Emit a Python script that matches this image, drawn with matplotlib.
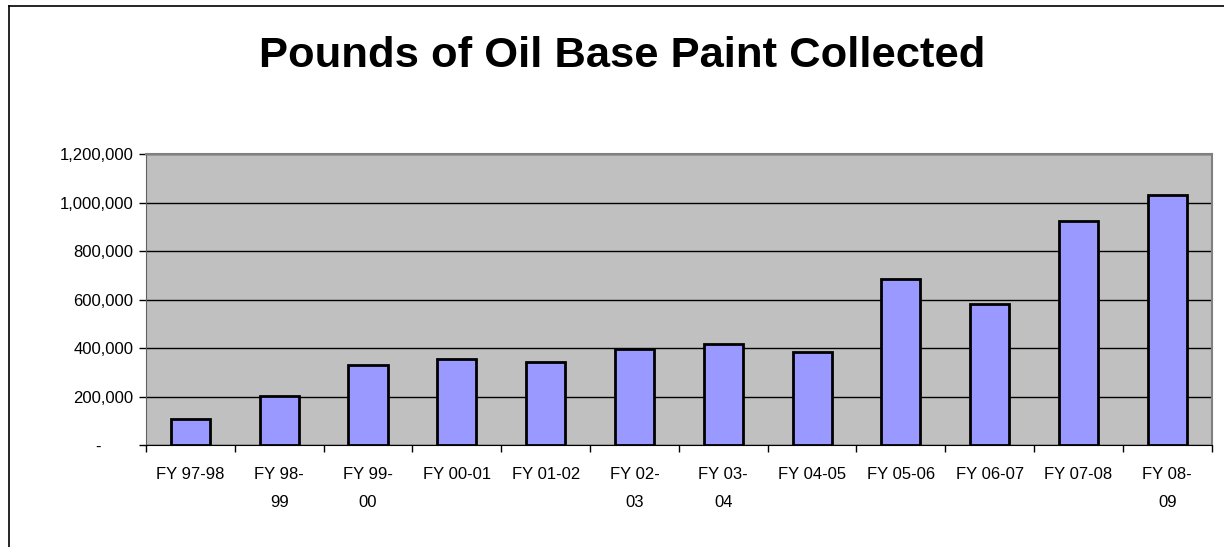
import matplotlib
matplotlib.use("Agg")
import matplotlib.pyplot as plt
from matplotlib.lines import Line2D
from matplotlib.ticker import FuncFormatter

plt.rcParams['font.family'] = ['Liberation Sans', 'DejaVu Sans']

# data
years = ["FY 97-98", "FY 98-\n99", "FY 99-\n00", "FY 00-01", "FY 01-02", "FY 02-\n03",
         "FY 03-\n04", "FY 04-05", "FY 05-06", "FY 06-07", "FY 07-08", "FY 08-\n09"]
pounds = [106000, 202000, 332000, 354000, 344000, 397000,
          417000, 384000, 687000, 580000, 924000, 1030000]
yticks = [0, 200000, 400000, 600000, 800000, 1000000, 1200000]

fig = plt.figure(figsize=(12.24, 5.47), dpi=100)
ax = fig.add_axes([146/1224, 1 - 445/547, (1211.7 - 146)/1224, (445 - 154.3)/547])

x = range(len(years))
ax.bar(x, pounds, width=0.44, color='#9999FF', edgecolor='black', linewidth=2, zorder=3)

ax.set_facecolor('#C0C0C0')
ax.set_xlim(-0.5, len(years) - 0.5)
ax.set_ylim(0, 1200000)
ax.set_yticks(yticks)
ax.yaxis.grid(True, color='black', linewidth=1, zorder=1)

def fmt(v, pos):
    if v == 0:
        return "-       "
    return f"{int(v):,}"
ax.yaxis.set_major_formatter(FuncFormatter(fmt))

# ticks on category boundaries, labels centred under bars
ax.set_xticks([i - 0.5 for i in range(len(years) + 1)])
ax.set_xticklabels([])
ax.set_xticks(list(x), minor=True)
ax.set_xticklabels(years, minor=True, fontsize=12, linespacing=2.1)
ax.tick_params(axis='x', which='minor', length=0, pad=15.5)
ax.tick_params(axis='x', which='major', length=5, width=1, direction='out')
ax.tick_params(axis='y', length=5, width=1, direction='out', labelsize=12, pad=4)

for side in ['top', 'right']:
    ax.spines[side].set_color('#808080')
    ax.spines[side].set_linewidth(1.5)
ax.spines['left'].set_color('#606060')
ax.spines['bottom'].set_color('black')

fig.text(622/1224, 1 - 56/547, "Pounds of Oil Base Paint Collected",
         ha='center', va='center', fontsize=31.3, fontweight='bold')

# chart area border (only left and top visible in the crop)
fig.add_artist(Line2D([9/1224, 9/1224], [0, 1 - 6/547], color='black', linewidth=1.2))
fig.add_artist(Line2D([9/1224, 1], [1 - 6/547, 1 - 6/547], color='black', linewidth=1.2))

fig.savefig("out.png", dpi=100)
